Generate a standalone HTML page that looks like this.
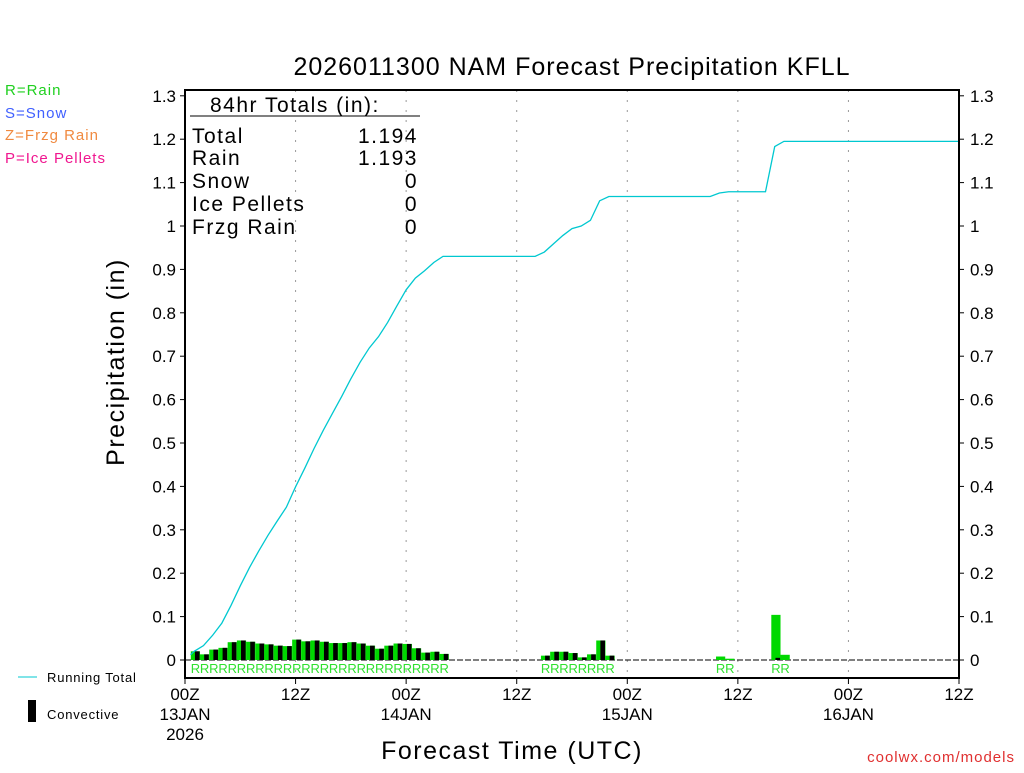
<!DOCTYPE html>
<html><head><meta charset="utf-8"><style>
body{margin:0;background:#fff;}
svg text{font-family:"Liberation Sans",sans-serif;}
</style></head><body>
<svg id="chart" width="1024" height="768" xmlns="http://www.w3.org/2000/svg">
<rect width="1024" height="768" fill="#fff"/>
<text x="572" y="75" font-size="25" text-anchor="middle" letter-spacing="1">2026011300 NAM Forecast Precipitation KFLL</text>
<g font-size="15" letter-spacing="1">
<text x="5" y="95" fill="#20d020">R=Rain</text>
<text x="5" y="118" fill="#4060ff">S=Snow</text>
<text x="5" y="140" fill="#f08a40">Z=Frzg Rain</text>
<text x="5" y="163" fill="#f01890">P=Ice Pellets</text>
</g>
<g font-size="13" letter-spacing="0.8">
<line x1="18" y1="677" x2="37" y2="677" stroke="#00c8d0"/>
<text x="47" y="682">Running Total</text>
<rect x="28" y="700" width="8" height="22" fill="#000"/>
<text x="47" y="719">Convective</text>
</g>
<text transform="translate(124,362) rotate(-90)" font-size="25" text-anchor="middle" letter-spacing="1.5">Precipitation (in)</text>
<text x="512" y="759" font-size="25" text-anchor="middle" letter-spacing="1.5">Forecast Time (UTC)</text>
<text x="1015" y="762" font-size="15" fill="#e03030" text-anchor="end" letter-spacing="1">coolwx.com/models</text>
<g id="grid"></g><g id="bars"></g><g id="line"></g><g id="axes"></g>
<g font-size="21" letter-spacing="1.5">
<text x="210" y="112">84hr Totals (in):</text>
<line x1="190" y1="116" x2="420" y2="116" stroke="#000"/>
<text x="192" y="143">Total</text><text x="418" y="143" text-anchor="end">1.194</text>
<text x="192" y="165">Rain</text><text x="418" y="165" text-anchor="end">1.193</text>
<text x="192" y="188">Snow</text><text x="418" y="188" text-anchor="end">0</text>
<text x="192" y="211">Ice Pellets</text><text x="418" y="211" text-anchor="end">0</text>
<text x="192" y="234">Frzg Rain</text><text x="418" y="234" text-anchor="end">0</text>
</g>
</svg>
<script>
const hours=[1,2,3,4,5,6,7,8,9,10,11,12,13,14,15,16,17,18,19,20,21,22,23,24,25,26,27,28,39,40,41,42,43,44,45,46,58,59,64,65];
const totals=[0.020,0.013,0.024,0.028,0.041,0.045,0.042,0.038,0.036,0.033,0.032,0.047,0.043,0.045,0.042,0.039,0.039,0.041,0.038,0.033,0.026,0.033,0.038,0.037,0.027,0.017,0.019,0.014,0.010,0.019,0.019,0.016,0.006,0.013,0.045,0.010,0.008,0.003,0.104,0.012];
const convective=[0.020,0.013,0.024,0.028,0.041,0.045,0.042,0.038,0.036,0.033,0.032,0.047,0.043,0.045,0.042,0.039,0.039,0.041,0.038,0.033,0.026,0.033,0.038,0.037,0.027,0.017,0.019,0.014,0.010,0.019,0.019,0.016,0.006,0.013,0.045,0.010,0,0,0.005,0];
const yTicks=[0,0.1,0.2,0.3,0.4,0.5,0.6,0.7,0.8,0.9,1,1.1,1.2,1.3];
const xTickHours=[0,12,24,36,48,60,72,84];
const xTickLabels=["00Z","12Z","00Z","12Z","00Z","12Z","00Z","12Z"];
const xDateLabels=["13JAN","","14JAN","","15JAN","","16JAN",""];
const NS="http://www.w3.org/2000/svg";
const X0=185,X1=959,Y0=660,PX=434;
const x=h=>X0+h*(X1-X0)/84;
const y=v=>Y0-v*PX;
function mk(t,a,p){const e=document.createElementNS(NS,t);for(const k in a)e.setAttribute(k,a[k]);p.appendChild(e);return e;}
const grid=document.getElementById('grid'),bars=document.getElementById('bars'),line=document.getElementById('line'),axes=document.getElementById('axes');
xTickHours.forEach((h,i)=>{if(i>0&&i<xTickHours.length-1){const g=mk('line',{x1:x(h),y1:90,x2:x(h),y2:678,stroke:'#999','stroke-dasharray':'2,8'},grid);

}});
mk('line',{x1:X0,y1:Y0,x2:X1,y2:Y0,stroke:'#000','stroke-dasharray':'6,2'},grid);
const bw=(X1-X0)/84;
hours.forEach((h,i)=>{const cx=x(h)+1.2;
const b=mk('rect',{x:cx-bw/2,y:y(totals[i]),width:bw,height:totals[i]*PX,fill:'#00d800'},bars);


if(convective[i]>0){const c=mk('rect',{x:cx-bw/2+bw*0.45,y:y(convective[i]),width:bw*0.5,height:convective[i]*PX,fill:'#000'},bars);

}
const r=mk('text',{x:cx,y:673,'font-size':13,fill:'#30e030','text-anchor':'middle'},bars);r.textContent='R';

});
let cum=0,pts=[[x(0.6),y(0.012)]];
hours.forEach((h,i)=>{if(i>0&&hours[i-1]<h-1)pts.push([x(h-1),y(cum)]);cum+=totals[i];pts.push([x(h),y(cum)]);});
pts.push([X1,y(cum)]);
const pl=mk('polyline',{points:pts.map(p=>p.join(',')).join(' '),fill:'none',stroke:'#00c8d0','stroke-width':1.3},line);


mk('rect',{x:X0,y:90,width:X1-X0,height:588,fill:'none',stroke:'#000','stroke-width':2},axes);
yTicks.forEach(v=>{mk('line',{x1:X0-5,y1:y(v),x2:X0,y2:y(v),stroke:'#000'},axes);mk('line',{x1:X1,y1:y(v),x2:X1+5,y2:y(v),stroke:'#000'},axes);
const l=mk('text',{x:X0-9,y:y(v)+6,'font-size':17,'text-anchor':'end'},axes);l.textContent=String(v);


const r=mk('text',{x:X1+11,y:y(v)+6,'font-size':17},axes);r.textContent=String(v);

});
xTickHours.forEach((h,i)=>{mk('line',{x1:x(h),y1:678,x2:x(h),y2:684,stroke:'#000'},axes);
const t=mk('text',{x:x(h),y:700,'font-size':17,'text-anchor':'middle'},axes);t.textContent=xTickLabels[i];


if(xDateLabels[i]){const d=mk('text',{x:x(h),y:720,'font-size':17,'text-anchor':'middle'},axes);d.textContent=xDateLabels[i];

}});
const yr=mk('text',{x:x(0),y:740,'font-size':17,'text-anchor':'middle'},axes);yr.textContent='2026';


</script>
</body></html>
